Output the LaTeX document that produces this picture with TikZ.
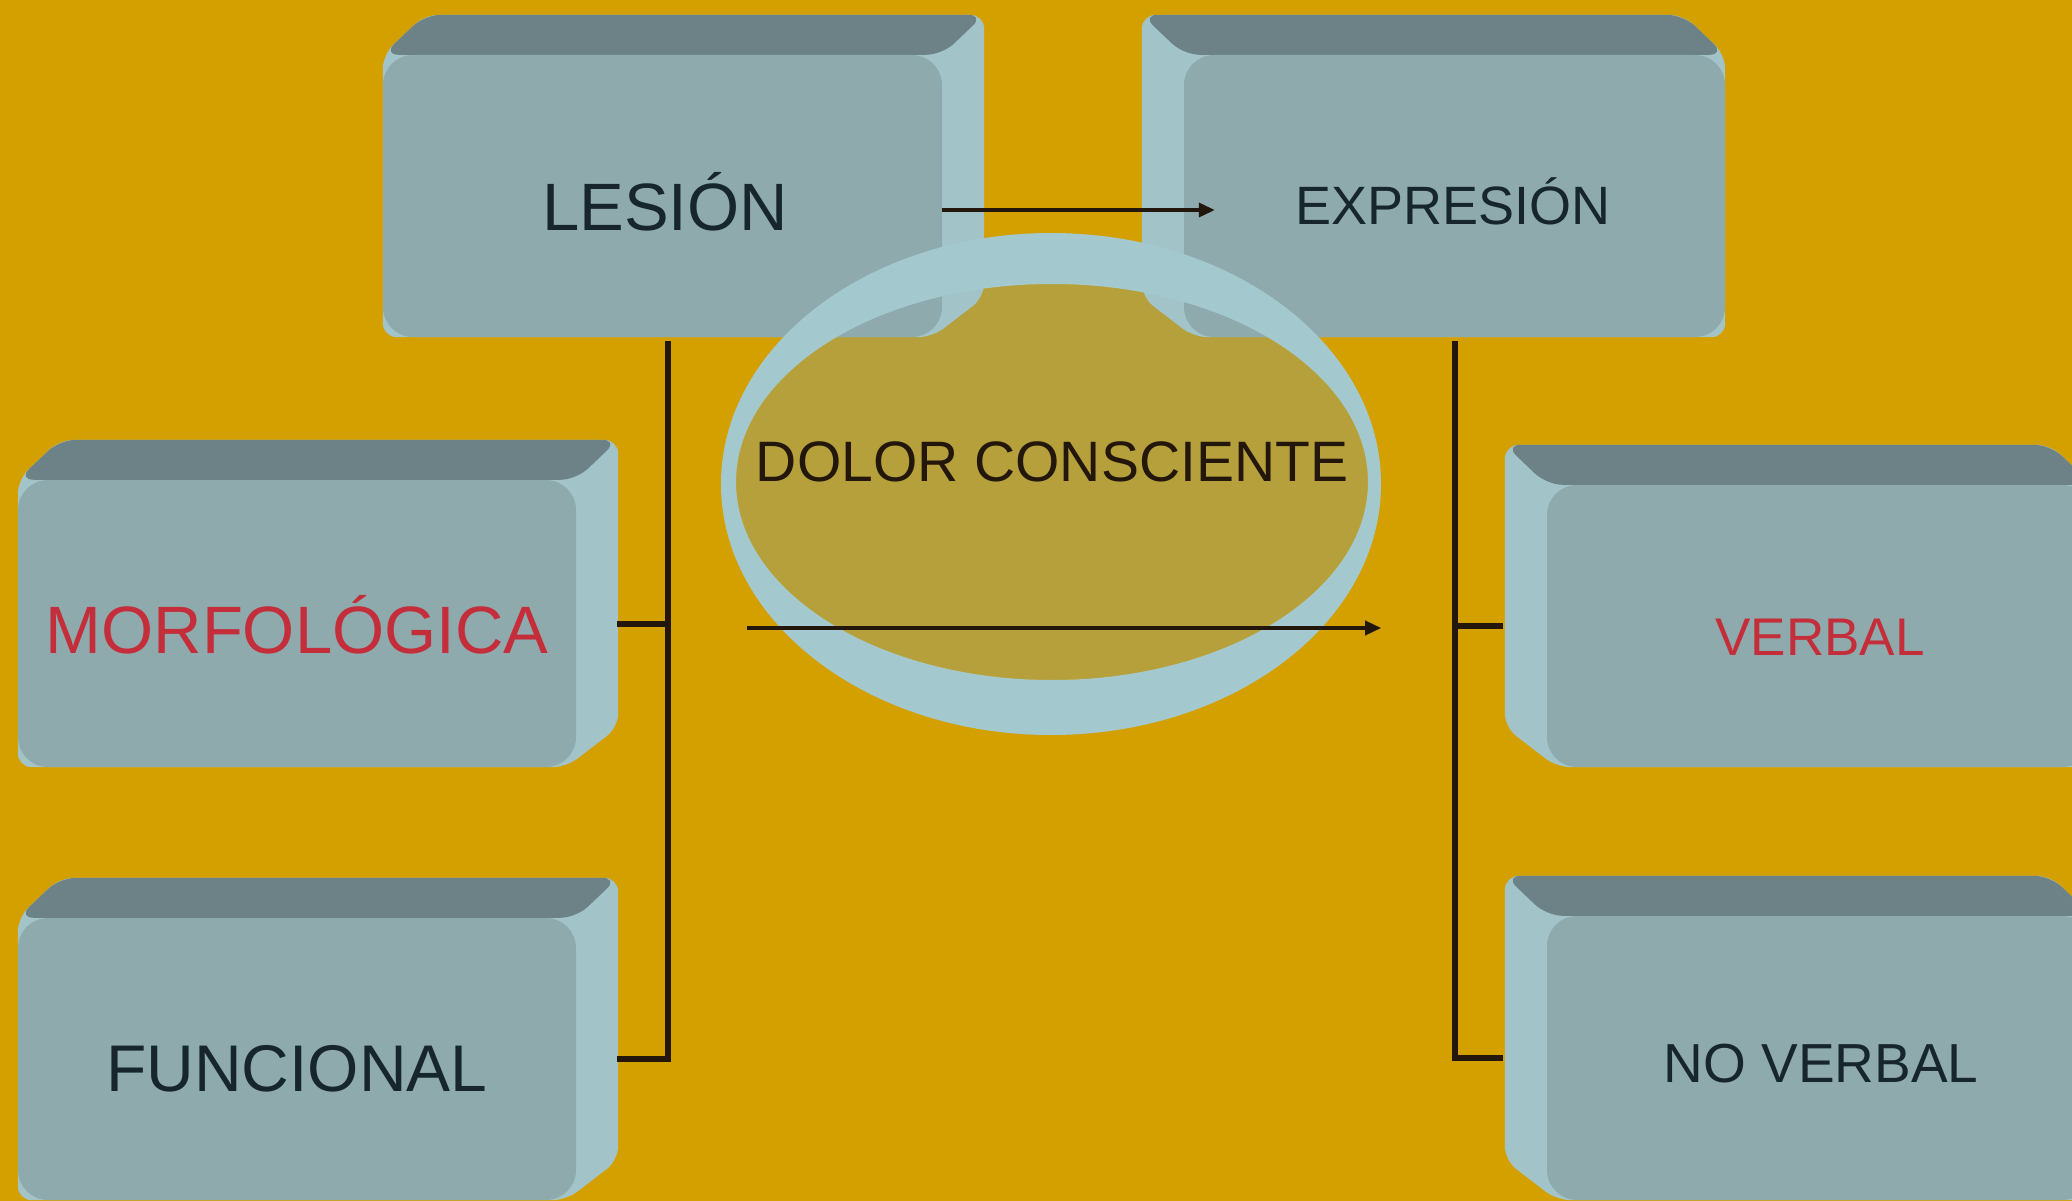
\documentclass[tikz,border=0pt]{standalone}
\usepackage{fontspec}
\setmainfont{Liberation Sans}
\usetikzlibrary{arrows.meta,calc,shapes.geometric}
\pgfdeclarelayer{bglayer}
\pgfdeclarelayer{bevlayer}
\pgfsetlayers{bglayer,bevlayer,main}
\definecolor{bgc}{RGB}{212,160,0}
\definecolor{goldc}{RGB}{181,160,60}
\definecolor{facec}{RGB}{142,170,172}
\definecolor{topc}{RGB}{108,130,134}
\definecolor{sidec}{RGB}{162,196,201}
\definecolor{ringc}{RGB}{163,201,206}
\definecolor{linec}{RGB}{35,22,10}
\definecolor{darktxt}{RGB}{22,38,44}
\definecolor{redtxt}{RGB}{196,45,58}
% extrusion towards upper right
\newcommand\bevUR[1]{%
  \fill[sidec, rounded corners=14pt] (#1.south west) -- (#1.north west) -- ($(#1.north west)+(42,-40)$) -- ($(#1.north east)+(42,-40)$) -- ($(#1.south east)+(42,-40)$) -- ($(#1.south east)+(-10,0)$) -- cycle;
  \fill[topc, rounded corners=16pt] (#1.north west) -- ($(#1.north west)+(42,-40)$) -- ($(#1.north east)+(42,-40)$) -- (#1.north east) -- cycle;
}
% extrusion towards upper left
\newcommand\bevUL[1]{%
  \fill[sidec, rounded corners=14pt] (#1.south east) -- (#1.north east) -- ($(#1.north east)+(-42,-40)$) -- ($(#1.north west)+(-42,-40)$) -- ($(#1.south west)+(-42,-40)$) -- ($(#1.south west)+(10,0)$) -- cycle;
  \fill[topc, rounded corners=16pt] (#1.north east) -- ($(#1.north east)+(-42,-40)$) -- ($(#1.north west)+(-42,-40)$) -- (#1.north west) -- cycle;
}
\begin{document}
\begin{tikzpicture}[x=1pt,y=-1pt,
  face/.style={rectangle, rounded corners=30pt, fill=facec, inner sep=0pt},
  lbl/.style={anchor=base, inner sep=0pt, text=darktxt},
  arr/.style={line width=3.5pt, draw=linec, -{Triangle[length=16pt,width=14pt]}},
  tree/.style={line width=6pt, draw=linec}]
\useasboundingbox (0,0) rectangle (2072,1201);

% front faces
\node[face, minimum width=559pt, minimum height=282pt] (les) at (662.5,196) {};
\node[face, minimum width=541pt, minimum height=282pt] (exp) at (1454.5,196) {};
\node[face, minimum width=558pt, minimum height=287pt] (mor) at (297,623.5) {};
\node[face, minimum width=558pt, minimum height=282pt] (fun) at (297,1059) {};
\node[face, minimum width=545pt, minimum height=282pt] (ver) at (1819.5,626) {};
\node[face, minimum width=545pt, minimum height=284pt] (nov) at (1819.5,1058) {};
\node[ellipse, minimum width=660pt, minimum height=502pt, inner sep=0pt] (ring) at (1051,484) {};

\begin{pgfonlayer}{bglayer}
  \fill[bgc] (0,0) rectangle (2072,1201);
  \fill[goldc] ($(ring.center)+(1,-2)$) ellipse [x radius=316pt, y radius=198pt];
\end{pgfonlayer}

\begin{pgfonlayer}{bevlayer}
  \bevUR{les}
  \bevUR{mor}
  \bevUR{fun}
  \bevUL{exp}
  \bevUL{ver}
  \bevUL{nov}
\end{pgfonlayer}

% ring of the lens
\fill[ringc, even odd rule] (ring.center) ellipse [x radius=330pt, y radius=251pt]
  ($(ring.center)+(1,-2)$) ellipse [x radius=316pt, y radius=198pt];

% tree connectors
\coordinate (lv) at ($(les.south)+(5,4)$);
\coordinate (rv) at ($(exp.south)+(0,4)$);
\draw[tree] (lv) |- ([xshift=41pt]fun.east);
\draw[tree] ([xshift=41pt]mor.east) -- (mor.east -| lv);
\draw[tree] (rv) |- ([xshift=-44pt]nov.west);
\draw[tree] ([xshift=-44pt]ver.west) -- (ver.west -| rv);

% arrows
\draw[arr] ([yshift=-14pt]les.east) -- ([xshift=31pt,yshift=-14pt]exp.west);
\coordinate (ms) at (747,628);
\draw[arr] (ms) -- (ms -| ring.east);

% texts
\node[lbl, font=\fontsize{67}{70}\selectfont] (lesT) at (665,230) {LESIÓN};
\node[lbl, font=\fontsize{54}{58}\selectfont] (expT) at (1453,225) {EXPRESIÓN};
\node[lbl, font=\fontsize{57}{60}\selectfont, text=linec] (dolT) at (1052,481) {DOLOR CONSCIENTE};
\node[lbl, font=\fontsize{67}{70}\selectfont, text=redtxt] (morT) at (297,653) {MORFOLÓGICA};
\node[lbl, font=\fontsize{66}{70}\selectfont] (funT) at (297,1091) {FUNCIONAL};
\node[lbl, font=\fontsize{53}{56}\selectfont, text=redtxt] (verT) at (1820,655) {VERBAL};
\node[lbl, font=\fontsize{55}{58}\selectfont] (novT) at (1821,1082) {NO VERBAL};
\end{tikzpicture}
\end{document}
